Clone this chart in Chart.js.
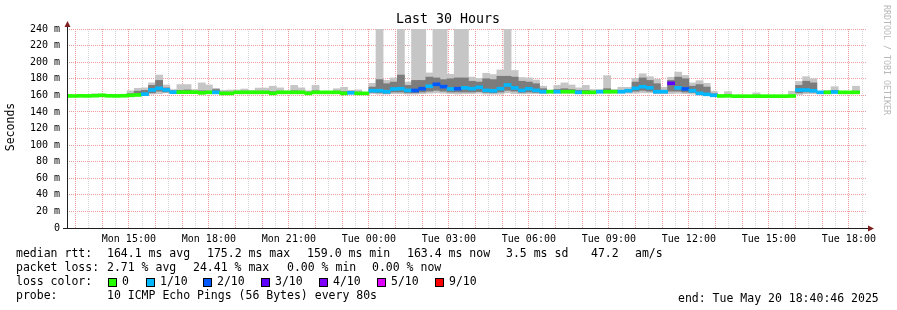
<!DOCTYPE html>
<html>
<head>
<meta charset="utf-8">
<script src="https://cdn.jsdelivr.net/npm/chart.js@4.4.0/dist/chart.umd.min.js"></script>
<style>
  html, body { margin: 0; padding: 0; background: #fff; }
  canvas { display: block; }
</style>
</head>
<body>
<canvas id="chart" width="897" height="310"></canvas>
<script>
// x axis is in hours since Mon 00:00
const START = 12 + 40 / 60 + 46 / 3600;   // Mon 12:40:46
const END = START + 30;                   // Tue 18:40:46
const FIRST_STEP = 12 + 32 / 60;          // first 16 min RRD step (Mon 12:32)
const STEP_H = 16 / 60;

const xTickHours = [15, 18, 21, 24, 27, 30, 33, 36, 39, 42];
const xTickLabels = ['Mon 15:00', 'Mon 18:00', 'Mon 21:00', 'Tue 00:00', 'Tue 03:00',
  'Tue 06:00', 'Tue 09:00', 'Tue 12:00', 'Tue 15:00', 'Tue 18:00'];
const yTickValues = [0, 20, 40, 60, 80, 100, 120, 140, 160, 180, 200, 220, 240];
const yTickLabels = ['0', '20 m', '40 m', '60 m', '80 m', '100 m', '120 m', '140 m',
  '160 m', '180 m', '200 m', '220 m', '240 m'];

// loss colour legend
const lossLabels = ['0', '1/10', '2/10', '3/10', '4/10', '5/10', '9/10'];
const lossColors = ['#26ff00', '#00b8ff', '#0059ff', '#5e00ff', '#7e00ff', '#dd00ff', '#ff0000'];

// per 16 min step (ms): median rtt, loss colour index, smoke min/max, inner smoke band
const median = [
  159.3, 159.2, 159.4, 159.3, 159.6, 160.0, 159.4, 159.3, 159.5, 160.0,
  160.5, 161.5, 166.5, 168.5, 166.5, 163.8, 163.8, 163.8, 163.8, 163.0,
  163.6, 163.6, 162.4, 162.4, 163.6, 163.6, 163.6, 163.6, 163.6, 162.4,
  163.6, 163.6, 163.6, 163.6, 162.4, 163.6, 163.6, 163.6, 163.6, 162.4,
  163.0, 162.4, 162.4, 165.6, 165.6, 164.4, 167.6, 168.0, 165.9, 165.9,
  168.0, 171.0, 173.3, 170.5, 167.7, 168.0, 169.0, 168.0, 169.7, 166.0,
  165.5, 168.0, 172.5, 169.0, 166.0, 168.0, 166.0, 164.4, 164.4, 164.4,
  164.4, 164.4, 163.6, 163.6, 163.6, 164.4, 164.4, 164.4, 164.4, 165.6,
  168.5, 170.4, 169.0, 164.4, 164.4, 174.5, 169.0, 167.7, 165.6, 162.4,
  161.2, 160.0, 159.2, 159.4, 159.0, 159.0, 159.0, 159.0, 159.0, 159.0,
  159.0, 159.0, 159.2, 166.4, 166.4, 165.5, 163.6, 163.6, 164.0, 163.6,
  163.6, 163.6
];
const loss = [
  0, 0, 0, 0, 0, 0, 0, 0, 0, 0,
  0, 1, 1, 1, 1, 1, 0, 0, 0, 0,
  0, 1, 0, 0, 0, 0, 0, 0, 0, 0,
  0, 0, 0, 0, 0, 0, 0, 0, 0, 0,
  1, 0, 0, 1, 1, 1, 1, 1, 1, 2,
  2, 1, 2, 2, 1, 2, 1, 1, 1, 1,
  1, 1, 1, 1, 1, 1, 1, 1, 0, 1,
  0, 0, 1, 0, 0, 1, 0, 0, 1, 1,
  1, 1, 1, 1, 1, 3, 1, 2, 1, 1,
  1, 1, 0, 0, 0, 0, 0, 0, 0, 0,
  0, 0, 0, 1, 1, 1, 1, 0, 1, 0,
  0, 0
];
const pingMin = [
  158.7, 158.7, 158.8, 158.8, 159.0, 159.2, 158.9, 158.8, 158.9, 159.0,
  159.0, 159.5, 161.5, 162.0, 163.0, 162.5, 162.5, 162.6, 162.8, 162.3,
  162.8, 162.5, 161.8, 161.8, 162.8, 162.8, 162.8, 162.8, 162.8, 161.8,
  162.8, 162.8, 162.8, 162.8, 161.8, 162.8, 162.8, 162.8, 162.8, 161.8,
  162.0, 161.8, 161.8, 162.0, 161.5, 161.5, 162.0, 162.0, 161.5, 161.5,
  162.0, 162.5, 163.0, 162.5, 162.0, 161.5, 162.0, 162.0, 162.5, 161.5,
  161.5, 161.5, 163.0, 162.0, 161.8, 162.0, 162.0, 162.2, 162.5, 162.5,
  162.5, 162.5, 162.2, 162.5, 162.5, 162.5, 162.5, 162.5, 162.5, 162.5,
  162.5, 163.0, 163.0, 162.0, 162.0, 162.0, 162.5, 162.0, 161.5, 160.5,
  160.0, 159.2, 158.6, 158.6, 158.4, 158.4, 158.4, 158.4, 158.4, 158.4,
  158.4, 158.4, 158.5, 161.0, 162.0, 162.0, 162.5, 162.5, 162.5, 162.5,
  162.5, 162.5
];
const pingMax = [
  160.0, 159.9, 160.5, 160.4, 161.8, 161.5, 160.4, 161.2, 160.6, 165.5,
  168.5, 169.0, 175.0, 184.5, 172.5, 167.0, 173.0, 173.0, 167.0, 175.0,
  172.5, 168.5, 166.0, 166.5, 166.5, 167.6, 166.0, 168.8, 168.8, 171.0,
  169.0, 165.5, 172.0, 169.0, 165.5, 172.0, 164.5, 164.5, 168.0, 169.7,
  166.0, 166.6, 163.5, 174.5, 241.0, 178.0, 181.0, 241.0, 176.0, 241.0,
  241.0, 187.0, 241.0, 241.0, 185.4, 241.0, 241.0, 182.0, 180.5, 186.6,
  185.0, 190.6, 241.0, 190.0, 181.5, 181.0, 178.5, 171.0, 166.5, 172.0,
  175.0, 172.5, 169.0, 172.0, 167.0, 167.0, 183.7, 167.0, 169.7, 169.7,
  180.5, 186.0, 182.5, 179.5, 169.7, 181.7, 188.0, 184.0, 175.0, 177.7,
  174.5, 165.0, 161.0, 164.4, 159.8, 159.6, 159.6, 163.0, 159.6, 159.6,
  159.6, 159.6, 165.0, 176.7, 182.5, 180.0, 164.5, 166.0, 170.4, 165.0,
  164.5, 171.0
];
const midLo = [
  158.9, 158.9, 159.0, 159.0, 159.2, 159.5, 159.0, 159.0, 159.1, 159.4,
  159.6, 160.2, 163.0, 165.0, 164.0, 163.0, 163.0, 163.0, 163.2, 162.6,
  163.0, 163.0, 162.0, 162.0, 163.0, 163.0, 163.0, 163.0, 163.0, 162.0,
  163.0, 163.0, 163.0, 163.0, 162.0, 163.0, 163.0, 163.0, 163.0, 162.0,
  162.4, 162.0, 162.0, 163.5, 163.0, 162.5, 164.0, 164.0, 163.0, 163.0,
  164.0, 165.0, 166.0, 165.0, 164.0, 164.0, 164.0, 164.0, 164.5, 163.5,
  163.0, 164.0, 166.0, 165.0, 163.5, 164.0, 163.5, 163.0, 163.5, 163.5,
  163.5, 163.5, 163.0, 163.0, 163.0, 163.5, 163.5, 163.5, 163.5, 164.0,
  165.0, 166.0, 165.0, 163.0, 163.0, 165.0, 165.0, 164.0, 163.5, 162.0,
  161.0, 159.8, 158.9, 159.0, 158.7, 158.7, 158.7, 158.7, 158.7, 158.7,
  158.7, 158.7, 158.8, 163.0, 164.0, 164.0, 163.0, 163.0, 163.5, 163.0,
  163.0, 163.0
];
const midHi = [
  159.8, 159.6, 160.0, 159.9, 160.5, 160.8, 160.0, 160.2, 160.1, 162.0,
  165.0, 166.0, 172.0, 178.0, 169.0, 165.5, 166.0, 166.5, 165.0, 165.5,
  165.0, 167.0, 164.0, 164.0, 164.5, 165.0, 164.5, 165.0, 165.0, 164.5,
  165.0, 164.5, 165.5, 165.0, 164.0, 165.5, 164.2, 164.2, 165.0, 164.5,
  165.0, 164.0, 163.0, 170.0, 179.0, 174.0, 176.0, 184.5, 172.0, 178.0,
  178.0, 182.0, 181.0, 179.0, 180.0, 181.0, 181.0, 177.0, 176.0, 180.0,
  179.0, 183.0, 183.0, 182.0, 177.0, 176.0, 174.0, 168.0, 165.5, 167.0,
  168.0, 167.0, 166.0, 166.0, 165.0, 165.5, 168.0, 165.5, 166.0, 167.0,
  176.0, 181.0, 178.0, 174.0, 166.0, 178.0, 182.0, 180.0, 171.0, 173.0,
  170.0, 162.0, 160.0, 161.0, 159.3, 159.3, 159.3, 159.8, 159.3, 159.3,
  159.3, 159.3, 160.0, 172.0, 177.0, 175.0, 164.2, 164.8, 166.0, 164.5,
  164.2, 165.0
];

const MED_HALF = 1.8;   // half thickness of the median bar
const FONT = 'DejaVu Sans Mono';
const MAJOR = '#f09c9c';
const MINOR = '#d6d6d6';

const steps = median.map((_, i) => FIRST_STEP + STEP_H * (i + 0.5));
const gridHours = [];
for (let h = 13; h <= 42.5; h += 0.5) gridHours.push(h);
const gridMs = [];
for (let v = 0; v <= 240; v += 10) gridMs.push(v);

const barCommon = { type: 'bar', grouped: false, barPercentage: 1, categoryPercentage: 1, borderWidth: 0 };

const decor = {
  id: 'decor',
  afterDraw(chart) {
    const ctx = chart.ctx;
    const { left, right, top, bottom } = chart.chartArea;
    ctx.save();
    // axes
    ctx.strokeStyle = '#1f1f1f';
    ctx.lineWidth = 1;
    ctx.beginPath();
    ctx.moveTo(left + 0.5, bottom + 0.5);
    ctx.lineTo(left + 0.5, top - 4);
    ctx.moveTo(left - 4, bottom + 0.5);
    ctx.lineTo(right + 2, bottom + 0.5);
    ctx.stroke();
    ctx.fillStyle = '#801f1f';
    ctx.beginPath();
    ctx.moveTo(left + 0.5, top - 8);
    ctx.lineTo(left - 2.5, top - 2);
    ctx.lineTo(left + 3.5, top - 2);
    ctx.closePath();
    ctx.fill();
    ctx.beginPath();
    ctx.moveTo(right + 7, bottom + 0.5);
    ctx.lineTo(right + 1, bottom - 2.5);
    ctx.lineTo(right + 1, bottom + 3.5);
    ctx.closePath();
    ctx.fill();

    // title
    ctx.fillStyle = '#000';
    ctx.font = '13.3px ' + FONT;
    ctx.textAlign = 'center';
    ctx.textBaseline = 'middle';
    ctx.fillText('Last 30 Hours', 448, 20);

    // y axis title
    ctx.font = '11.5px ' + FONT;
    ctx.save();
    ctx.translate(11, 127);
    ctx.rotate(-Math.PI / 2);
    ctx.fillText('Seconds', 0, 0);
    ctx.restore();

    // watermark
    ctx.save();
    ctx.fillStyle = '#b8b8b8';
    ctx.font = '8.3px ' + FONT;
    ctx.translate(886, 60);
    ctx.rotate(Math.PI / 2);
    ctx.fillText('RRDTOOL / TOBI OETIKER', 0, 0);
    ctx.restore();

    // footer legend
    ctx.font = '11.5px ' + FONT;
    ctx.textAlign = 'left';
    ctx.fillStyle = '#000';
    const rows = [
      [254, [[16, 'median rtt:'], [107, '164.1 ms avg'], [207, '175.2 ms max'], [307, '159.0 ms min'],
             [407, '163.4 ms now'], [506, '3.5 ms sd'], [591, '47.2'], [635, 'am/s']]],
      [268, [[16, 'packet loss:'], [107, '2.71 % avg'], [193, '24.41 % max'], [287, '0.00 % min'],
             [372, '0.00 % now']]],
      [282, [[16, 'loss color:']]],
      [296.5, [[16, 'probe:'], [107, '10 ICMP Echo Pings (56 Bytes) every 80s']]],
      [299.5, [[678, 'end: Tue May 20 18:40:46 2025']]]
    ];
    rows.forEach(([y, items]) => items.forEach(([x, t]) => ctx.fillText(t, x, y)));

    const sqX = [108, 146, 203, 261, 319, 377, 435];
    lossLabels.forEach((lab, i) => {
      ctx.fillStyle = lossColors[i];
      ctx.fillRect(sqX[i], 278, 9, 9);
      ctx.strokeStyle = '#000';
      ctx.strokeRect(sqX[i] + 0.5, 278.5, 8, 8);
      ctx.fillStyle = '#000';
      ctx.fillText(lab, sqX[i] + 14, 282);
    });
    ctx.restore();
  }
};

new Chart(document.getElementById('chart'), {
  type: 'bar',
  data: {
    datasets: [
      {
        ...barCommon,
        label: 'median rtt',
        data: steps.map((x, i) => ({ x, y: [median[i] - MED_HALF, median[i] + MED_HALF] })),
        backgroundColor: loss.map(l => lossColors[l]),
        order: 0
      },
      {
        ...barCommon,
        label: 'smoke inner',
        data: steps.map((x, i) => ({ x, y: [midLo[i], midHi[i]] })),
        backgroundColor: '#7c7c7c',
        order: 1
      },
      {
        ...barCommon,
        label: 'smoke outer',
        data: steps.map((x, i) => ({ x, y: [pingMin[i], pingMax[i]] })),
        backgroundColor: '#c6c6c6',
        order: 2
      }
    ]
  },
  options: {
    responsive: false,
    animation: false,
    devicePixelRatio: 1,
    layout: { padding: { top: 29, right: 30, left: 0, bottom: 0 } },
    plugins: { legend: { display: false }, tooltip: { enabled: false } },
    scales: {
      x: {
        type: 'linear',
        min: START,
        max: END,
        offset: false,
        z: 1,
        afterBuildTicks: s => { s.ticks = gridHours.map(v => ({ value: v })); },
        afterFit: s => { s.height = 82; },
        grid: {
          offset: false,
          color: gridHours.map(h => (h % 1 === 0 ? MAJOR : MINOR)),
          drawTicks: false,
          lineWidth: 1
        },
        border: { display: false, dash: [1, 1] },
        ticks: {
          autoSkip: false,
          maxRotation: 0,
          padding: 5,
          color: '#000',
          font: { family: FONT, size: 10 },
          callback: v => {
            const k = xTickHours.findIndex(h => Math.abs(h - v) < 1e-6);
            return k >= 0 ? xTickLabels[k] : '';
          }
        }
      },
      y: {
        min: 0,
        max: 240,
        z: 1,
        afterBuildTicks: s => { s.ticks = gridMs.map(v => ({ value: v })); },
        afterFit: s => { s.width = 67; },
        grid: {
          color: gridMs.map(v => (v % 20 === 0 ? MAJOR : MINOR)),
          drawTicks: false,
          lineWidth: 1
        },
        border: { display: false, dash: [1, 1] },
        ticks: {
          padding: 7,
          color: '#000',
          font: { family: FONT, size: 10 },
          callback: v => {
            const k = yTickValues.indexOf(v);
            return k >= 0 ? yTickLabels[k] : '';
          }
        }
      }
    }
  },
  plugins: [decor]
});
</script>
</body>
</html>
